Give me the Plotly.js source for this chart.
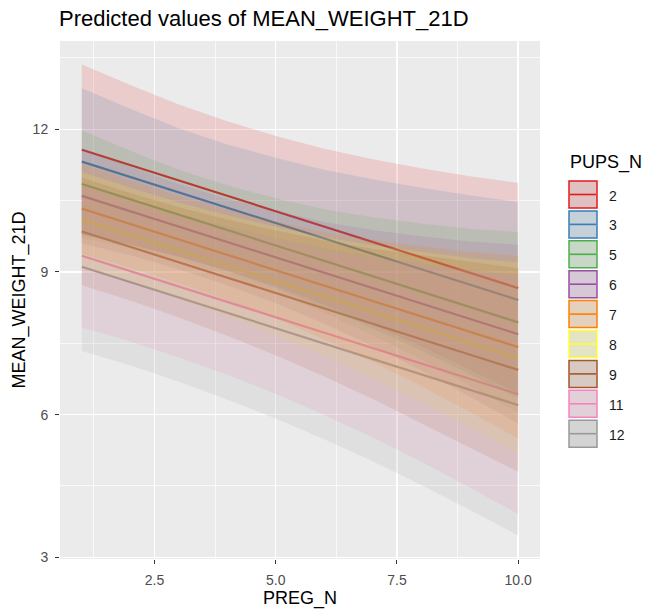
<!DOCTYPE html>
<html><head><meta charset="utf-8">
<script src="https://cdn.plot.ly/plotly-3.0.1.min.js"></script>
<style>html,body{margin:0;padding:0;background:#fff}#chart{width:645px;height:613px}</style>
</head><body><div id="chart"></div>
<script>
// ---- data ----
const pregN = [1, 2, 3, 4, 5, 6, 7, 8, 9, 10];
const lineX = [1, 10];
const pupsLevels = ['2', '3', '5', '6', '7', '8', '9', '11', '12'];
const predAtStart = [11.57, 11.32, 10.85, 10.60, 10.33, 10.10, 9.85, 9.34, 9.11];
const predAtEnd   = [8.66, 8.41, 7.94, 7.69, 7.42, 7.19, 6.94, 6.43, 6.20];

const upper_2  = [13.36, 12.93, 12.52, 12.17, 11.86, 11.59, 11.37, 11.18, 11.01, 10.87];
const lower_2  = [9.78, 9.57, 9.32, 9.03, 8.70, 8.31, 7.89, 7.44, 6.95, 6.45];
const upper_3  = [12.86, 12.43, 12.02, 11.68, 11.40, 11.15, 10.95, 10.77, 10.61, 10.47];
const lower_3  = [9.78, 9.57, 9.32, 9.02, 8.66, 8.25, 7.81, 7.35, 6.85, 6.35];
const upper_5  = [11.98, 11.55, 11.15, 10.82, 10.55, 10.32, 10.15, 10.02, 9.91, 9.84];
const lower_5  = [9.72, 9.51, 9.25, 8.94, 8.57, 8.14, 7.67, 7.16, 6.61, 6.04];
const upper_6  = [11.60, 11.21, 10.85, 10.54, 10.28, 10.05, 9.88, 9.75, 9.64, 9.57];
const lower_6  = [9.60, 9.35, 9.05, 8.72, 8.34, 7.91, 7.44, 6.93, 6.38, 5.81];
const upper_7  = [11.28, 10.93, 10.60, 10.31, 10.06, 9.84, 9.67, 9.54, 9.42, 9.34];
const lower_7  = [9.38, 9.09, 8.76, 8.41, 8.02, 7.58, 7.11, 6.60, 6.06, 5.50];
const upper_8  = [11.10, 10.77, 10.46, 10.19, 9.95, 9.73, 9.56, 9.42, 9.29, 9.20];
const lower_8  = [9.10, 8.79, 8.44, 8.07, 7.67, 7.23, 6.76, 6.26, 5.73, 5.18];
const upper_9  = [10.98, 10.66, 10.36, 10.10, 9.87, 9.66, 9.49, 9.35, 9.21, 9.08];
const lower_9  = [8.72, 8.40, 8.04, 7.66, 7.25, 6.80, 6.33, 5.83, 5.31, 4.80];
const upper_11 = [10.85, 10.50, 10.18, 9.90, 9.66, 9.45, 9.28, 9.15, 9.03, 8.95];
const lower_11 = [7.83, 7.54, 7.20, 6.84, 6.44, 5.99, 5.52, 5.01, 4.47, 3.91];
const upper_12 = [10.88, 10.54, 10.23, 9.96, 9.72, 9.50, 9.32, 9.18, 9.04, 8.94];
const lower_12 = [7.34, 7.04, 6.69, 6.32, 5.92, 5.48, 5.02, 4.52, 4.00, 3.46];

const upperSets = [upper_2, upper_3, upper_5, upper_6, upper_7, upper_8, upper_9, upper_11, upper_12];
const lowerSets = [lower_2, lower_3, lower_5, lower_6, lower_7, lower_8, lower_9, lower_11, lower_12];

// ---- styles ----
const colors = ['#E41A1C', '#377EB8', '#4DAF4A', '#984EA3', '#FF7F00', '#FFFF33', '#A65628', '#F781BF', '#999999'];
function rgba(hex, a) {
  const n = parseInt(hex.slice(1), 16);
  return 'rgba(' + ((n >> 16) & 255) + ',' + ((n >> 8) & 255) + ',' + (n & 255) + ',' + a + ')';
}

const traces = [];
// lines first, ribbons drawn over them (as in the reference)
pupsLevels.forEach((lev, i) => {
  traces.push({
    type: 'scatter', mode: 'lines', x: lineX, y: [predAtStart[i], predAtEnd[i]],
    line: {color: colors[i], width: 2.2}, name: lev, showlegend: false
  });
});
pupsLevels.forEach((lev, i) => {
  const xs = pregN.concat(pregN.slice().reverse());
  const ys = upperSets[i].concat(lowerSets[i].slice().reverse());
  traces.push({
    type: 'scatter', mode: 'lines', x: xs, y: ys, fill: 'toself',
    fillcolor: rgba(colors[i], 0.15), line: {width: 0, color: 'rgba(0,0,0,0)'},
    hoverinfo: 'skip', showlegend: false
  });
});

// ---- layout ----
const W = 645, H = 613, ML = 60, MR = 105, MT = 41, MB = 54;
const PW = W - ML - MR, PH = H - MT - MB;
const px2x = px => (px - ML) / PW;
const py2y = py => 1 - (py - MT) / PH;

const shapes = [];
const annotations = [];
const keyLeft = 569, keyRight = 597, keyTop0 = 181, keyPitch = 29.9, keyH = 27;
pupsLevels.forEach((lev, i) => {
  const t = keyTop0 + keyPitch * i, b = t + keyH, c = (t + b) / 2;
  shapes.push({type: 'rect', xref: 'paper', yref: 'paper', x0: px2x(keyLeft), x1: px2x(keyRight),
    y0: py2y(b), y1: py2y(t), fillcolor: '#DEDEDE', line: {width: 0}, layer: 'above'});
  shapes.push({type: 'line', xref: 'paper', yref: 'paper', x0: px2x(keyLeft + 1), x1: px2x(keyRight - 1),
    y0: py2y(c), y1: py2y(c), line: {width: 1.6, color: colors[i]}, layer: 'above'});
  shapes.push({type: 'rect', xref: 'paper', yref: 'paper', x0: px2x(keyLeft), x1: px2x(keyRight),
    y0: py2y(b), y1: py2y(t), fillcolor: rgba(colors[i], 0.15), line: {width: 1.5, color: colors[i]}, layer: 'above'});
  annotations.push({xref: 'paper', yref: 'paper', x: px2x(607), y: py2y(c + 1), xanchor: 'left', yanchor: 'middle',
    text: lev, showarrow: false, font: {size: 14, color: '#1A1A1A'}});
});
annotations.push({xref: 'paper', yref: 'paper', x: px2x(568), y: py2y(162), xanchor: 'left', yanchor: 'middle',
  text: 'PUPS_N', showarrow: false, font: {size: 18, color: '#000000'}});

const layout = {
  width: W, height: H,
  margin: {l: ML, r: MR, t: MT, b: MB},
  paper_bgcolor: '#FFFFFF', plot_bgcolor: '#EBEBEB',
  font: {family: '"Liberation Sans", Arial, sans-serif', color: '#000000'},
  title: {text: 'Predicted values of MEAN_WEIGHT_21D', font: {size: 22, color: '#000000'},
    xref: 'container', yref: 'container', x: 59 / W, xanchor: 'left', y: 1 - 18 / H, yanchor: 'middle'},
  showlegend: false,
  xaxis: {
    range: [0.55, 10.45], tickmode: 'linear', tick0: 0, dtick: 2.5, tickformat: '.1f',
    showgrid: true, gridcolor: '#FFFFFF', gridwidth: 1.4, zeroline: false, showline: false,
    ticks: 'outside', ticklen: 4, tickwidth: 1, tickcolor: '#333333',
    tickfont: {size: 14, color: '#4D4D4D'}, ticklabelstandoff: 4,
    minor: {tick0: 0, dtick: 1.25, showgrid: true, gridcolor: '#FFFFFF', gridwidth: 0.7},
    title: {text: 'PREG_N', font: {size: 18, color: '#000000'}, standoff: 2},
    automargin: false, fixedrange: true
  },
  yaxis: {
    range: [2.965, 13.855], tickmode: 'linear', tick0: 0, dtick: 3,
    showgrid: true, gridcolor: '#FFFFFF', gridwidth: 1.4, zeroline: false, showline: false,
    ticks: 'outside', ticklen: 4, tickwidth: 1, tickcolor: '#333333',
    tickfont: {size: 14, color: '#4D4D4D'}, ticklabelstandoff: 4,
    minor: {tick0: 0, dtick: 1.5, showgrid: true, gridcolor: '#FFFFFF', gridwidth: 0.7},
    title: {text: 'MEAN_WEIGHT_21D', font: {size: 18, color: '#000000'}, standoff: 2},
    automargin: false, fixedrange: true
  },
  shapes: shapes,
  annotations: annotations
};

Plotly.newPlot('chart', traces, layout, {displayModeBar: false, staticPlot: true});
</script></body></html>
